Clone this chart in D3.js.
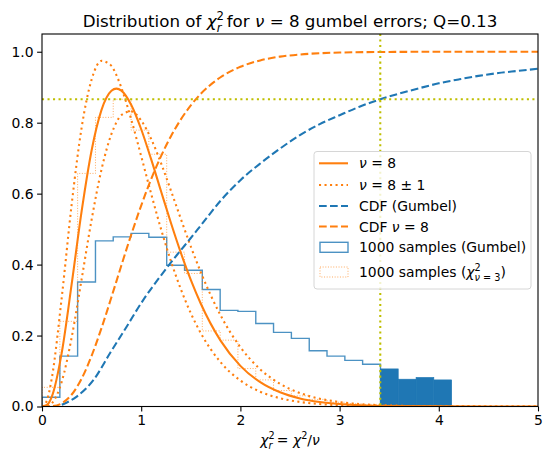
<!DOCTYPE html>
<html>
<head>
<meta charset="utf-8">
<script src="https://cdnjs.cloudflare.com/ajax/libs/d3/7.8.5/d3.min.js"></script>
<style>
  body { margin: 0; background: #fff; }
  svg text { font-family: "DejaVu Sans", sans-serif; white-space: pre; }
</style>
</head>
<body>
<div id="chart"></div>
<script>
const width = 552;
const height = 467;

// x grid of the reduced chi2 curves
const xs = [0, 0.05, 0.1, 0.2, 0.3, 0.4, 0.5, 0.6, 0.7, 0.75, 0.8, 0.9, 1.0, 1.1, 1.2, 1.3, 1.4, 1.5, 1.6, 1.8, 2.0, 2.2, 2.4, 2.6, 2.8, 3.0, 3.5, 4.0, 5.0];
const pdfNu = [0, 0.0044, 0.0286, 0.1534, 0.3470, 0.5513, 0.7218, 0.8361, 0.8899, 0.8960, 0.8905, 0.8499, 0.7815, 0.6972, 0.6068, 0.5171, 0.4329, 0.3569, 0.2904, 0.1858, 0.1145, 0.0685, 0.0400, 0.0228, 0.0128, 0.0071, 0.0015, 0.0003, 0];
const pdfNuMinus = [0, 0.0176, 0.0816, 0.3096, 0.5719, 0.7869, 0.9215, 0.9743, 0.9602, 0.9341, 0.8987, 0.8087, 0.7055, 0.6001, 0.5000, 0.4094, 0.3303, 0.2631, 0.2072, 0.1250, 0.0731, 0.0417, 0.0233, 0.0128, 0.0069, 0.0037, 0.0007, 0.0001, 0];
const pdfNuPlus = [0, 0.0010, 0.0093, 0.0708, 0.1961, 0.3597, 0.5266, 0.6681, 0.7682, 0.8007, 0.8217, 0.8318, 0.8062, 0.7544, 0.6857, 0.6083, 0.5285, 0.4510, 0.3790, 0.2571, 0.1671, 0.1048, 0.0638, 0.0380, 0.0221, 0.0126, 0.0029, 0.0006, 0];
const cdfNu = [0, 0.0001, 0.0008, 0.0091, 0.0338, 0.0788, 0.1429, 0.2213, 0.3081, 0.3528, 0.3975, 0.4848, 0.5665, 0.6406, 0.7058, 0.7619, 0.8094, 0.8488, 0.8811, 0.9281, 0.9576, 0.9756, 0.9862, 0.9923, 0.9958, 0.9977, 0.9995, 0.9999, 1.0];

// CDF of the gumbel samples
const gumbelX = [0.2, 0.35, 0.52, 0.685, 0.853, 1.02, 1.19, 1.36, 1.5, 1.6, 1.8, 2.0, 2.2, 2.4, 2.6, 2.8, 3.0, 3.2, 3.41, 3.6, 3.8, 4.0, 4.2, 4.4, 4.6, 4.8, 5.0];
const gumbelCdf = [0.005, 0.028, 0.075, 0.150, 0.225, 0.300, 0.366, 0.427, 0.475, 0.510, 0.580, 0.638, 0.685, 0.727, 0.765, 0.796, 0.821, 0.845, 0.866, 0.882, 0.897, 0.911, 0.922, 0.932, 0.940, 0.946, 0.952];

// histograms (shared bins)
const binEdges = [0, 0.180, 0.359, 0.539, 0.718, 0.898, 1.077, 1.257, 1.437, 1.616, 1.796, 1.975, 2.155, 2.334, 2.514, 2.694, 2.873, 3.053, 3.232, 3.412, 3.591, 3.771, 3.950, 4.130];
const gumbelHist = [0.026, 0.142, 0.351, 0.467, 0.478, 0.488, 0.477, 0.398, 0.384, 0.330, 0.271, 0.268, 0.234, 0.209, 0.192, 0.157, 0.142, 0.130, 0.119, 0.106, 0.077, 0.082, 0.075];
const chi3Hist = [0.054, 0.240, 0.657, 0.815, 0.866, 0.779, 0.711, 0.435, 0.375, 0.213, 0.187, 0.107, 0.075, 0.045, 0.030, 0.020, 0.012, 0.008, 0.006, 0.004, 0.003, 0.002, 0.001];

const qX = 3.41;
const qY = 0.866;
const xTicks = [0, 1, 2, 3, 4, 5];
const yTicks = [0, 0.2, 0.4, 0.6, 0.8, 1.0];

const blue = '#1f77b4';
const orange = '#ff7f0e';
const olive = '#bfbf00';

const mLeft = 42, mRight = 538, mTop = 34, mBottom = 406.5;
const x = d3.scaleLinear().domain([0, 5]).range([mLeft, mRight]);
const y = d3.scaleLinear().domain([0, 1.05]).range([mBottom, mTop]);

const svg = d3.select('#chart').append('svg')
  .attr('width', width).attr('height', height);

svg.append('defs').append('clipPath').attr('id', 'clip')
  .append('rect').attr('x', mLeft).attr('y', mTop)
  .attr('width', mRight - mLeft).attr('height', mBottom - mTop);

const plot = svg.append('g').attr('clip-path', 'url(#clip)');

// step outline for a histogram
function stepPath(edges, heights, from, to) {
  const p = d3.path();
  p.moveTo(x(edges[from]), y(0));
  for (let i = from; i < to; i++) {
    p.lineTo(x(edges[i]), y(heights[i]));
    p.lineTo(x(edges[i + 1]), y(heights[i]));
  }
  p.lineTo(x(edges[to]), y(0));
  return p.toString();
}

// filled tail of the gumbel histogram
plot.selectAll('rect.tail')
  .data(d3.range(19, 23))
  .enter().append('rect')
  .attr('class', 'tail')
  .attr('x', i => x(binEdges[i]))
  .attr('y', i => y(gumbelHist[i]))
  .attr('width', i => x(binEdges[i + 1]) - x(binEdges[i]))
  .attr('height', i => y(0) - y(gumbelHist[i]))
  .attr('fill', blue)
  .attr('stroke', blue).attr('stroke-width', 0.6);

plot.append('path')
  .attr('d', stepPath(binEdges, gumbelHist, 0, 19))
  .attr('fill', 'none').attr('stroke', blue)
  .attr('stroke-width', 1.4).attr('stroke-opacity', 0.8);

plot.append('path')
  .attr('d', stepPath(binEdges, chi3Hist, 0, 23))
  .attr('fill', 'none').attr('stroke', orange)
  .attr('stroke-width', 1).attr('stroke-opacity', 0.65)
  .attr('stroke-dasharray', '1,1.65');

const line = d3.line().curve(d3.curveMonotoneX)
  .x(d => x(d[0])).y(d => y(d[1]));

function drawCurve(xv, yv, color, dash) {
  plot.append('path')
    .attr('d', line(xv.map((v, i) => [v, yv[i]])))
    .attr('fill', 'none').attr('stroke', color)
    .attr('stroke-width', 2.08)
    .attr('stroke-dasharray', dash);
}

drawCurve(xs, pdfNu, orange, null);
drawCurve(xs, pdfNuMinus, orange, '2.08,3.43');
drawCurve(xs, pdfNuPlus, orange, '2.08,3.43');
drawCurve(gumbelX, gumbelCdf, blue, '7.7,3.3');
drawCurve(xs, cdfNu, orange, '7.7,3.3');

plot.append('line')
  .attr('x1', x(qX)).attr('x2', x(qX)).attr('y1', mTop).attr('y2', mBottom)
  .attr('stroke', olive).attr('stroke-width', 2.08).attr('stroke-dasharray', '2.08,3.43');
plot.append('line')
  .attr('x1', mLeft).attr('x2', mRight).attr('y1', y(qY)).attr('y2', y(qY))
  .attr('stroke', olive).attr('stroke-width', 2.08).attr('stroke-dasharray', '2.08,3.43');

// axes
const fs = 13.9;
const xAxis = svg.append('g').attr('transform', `translate(0,${mBottom})`)
  .call(d3.axisBottom(x).tickValues(xTicks).tickFormat(d3.format('d'))
    .tickSize(4.9).tickPadding(3.5));
const yAxis = svg.append('g').attr('transform', `translate(${mLeft},0)`)
  .call(d3.axisLeft(y).tickValues(yTicks).tickFormat(d3.format('.1f'))
    .tickSize(4.9).tickPadding(3.5));
[xAxis, yAxis].forEach(a => {
  a.select('.domain').remove();
  a.selectAll('line').attr('stroke', '#000').attr('stroke-width', 1.1);
  a.selectAll('text').attr('fill', '#000')
    .style('font-size', fs + 'px').style('font-family', '"DejaVu Sans", sans-serif');
});

svg.append('rect')
  .attr('x', mLeft).attr('y', mTop)
  .attr('width', mRight - mLeft).attr('height', mBottom - mTop)
  .attr('fill', 'none').attr('stroke', '#000').attr('stroke-width', 1.1);

// mathtext-like labels (sup and sub stacked like matplotlib)
function addMath(sel, parts, size) {
  let shift = 0;
  parts.forEach(p => {
    const target = p.pos === 'sup' ? -0.42 * size : p.pos === 'sub' ? 0.28 * size : 0;
    const ts = sel.append('tspan').text(p.t)
      .attr('dy', target - shift)
      .style('font-style', p.it ? 'italic' : 'normal')
      .style('font-size', (p.pos ? 0.7 * size : size) + 'px');
    if (p.dx) ts.attr('dx', p.dx);
    shift = target;
  });
}

const titleFs = 16.7;
addMath(svg.append('text').attr('x', (mLeft + mRight) / 2).attr('y', 27)
  .attr('text-anchor', 'middle').style('font-size', titleFs + 'px'), [
  { t: 'Distribution of ' }, { t: 'χ', it: 1 }, { t: '2', pos: 'sup' },
  { t: 'r', it: 1, pos: 'sub', dx: -7.4 }, { t: ' for ' }, { t: 'ν', it: 1 },
  { t: ' = 8 gumbel errors; Q=0.13' }
], titleFs);

addMath(svg.append('text').attr('x', (mLeft + mRight) / 2).attr('y', 445)
  .attr('text-anchor', 'middle').style('font-size', fs + 'px'), [
  { t: 'χ', it: 1 }, { t: '2', pos: 'sup' }, { t: 'r', it: 1, pos: 'sub', dx: -6.2 },
  { t: ' = ' }, { t: 'χ', it: 1 }, { t: '2', pos: 'sup' }, { t: '/' }, { t: 'ν', it: 1 }
], fs);

// legend
const legend = svg.append('g');
legend.append('rect')
  .attr('x', 314).attr('y', 151.5).attr('width', 217).attr('height', 137.5)
  .attr('rx', 3).attr('fill', '#fff').attr('fill-opacity', 0.8)
  .attr('stroke', '#d6d6d6').attr('stroke-width', 1);

const legendRows = [
  { y: 163.3, kind: 'line', color: orange, dash: null, parts: [{ t: 'ν', it: 1 }, { t: ' = 8' }] },
  { y: 185, kind: 'line', color: orange, dash: '2.08,3.43', parts: [{ t: 'ν', it: 1 }, { t: ' = 8 ± 1' }] },
  { y: 206, kind: 'line', color: blue, dash: '7.7,3.3', parts: [{ t: 'CDF (Gumbel)' }] },
  { y: 226.5, kind: 'line', color: orange, dash: '7.7,3.3', parts: [{ t: 'CDF ' }, { t: 'ν', it: 1 }, { t: ' = 8' }] },
  { y: 247.3, kind: 'patch', color: blue, dash: null, parts: [{ t: '1000 samples (Gumbel)' }] },
  { y: 272, kind: 'patch', color: orange, dash: '1,1.65', parts: [{ t: '1000 samples (' }, { t: 'χ', it: 1 },
    { t: '2', pos: 'sup' }, { t: 'ν', it: 1, pos: 'sub', dx: -6.2 }, { t: ' = 3', pos: 'sub' }, { t: ')' }] }
];

legendRows.forEach(r => {
  if (r.kind === 'line') {
    legend.append('line')
      .attr('x1', 319).attr('x2', 348).attr('y1', r.y).attr('y2', r.y)
      .attr('stroke', r.color).attr('stroke-width', 2.08)
      .attr('stroke-dasharray', r.dash);
  } else {
    legend.append('rect')
      .attr('x', 320).attr('y', r.y - 5).attr('width', 28).attr('height', 10)
      .attr('fill', 'none').attr('stroke', r.color)
      .attr('stroke-width', r.dash ? 1 : 1.4)
      .attr('stroke-opacity', r.dash ? 0.65 : 0.8)
      .attr('stroke-dasharray', r.dash);
  }
  addMath(legend.append('text').attr('x', 359).attr('y', r.y + 5)
    .style('font-size', fs + 'px'), r.parts, fs);
});
</script>
</body>
</html>
